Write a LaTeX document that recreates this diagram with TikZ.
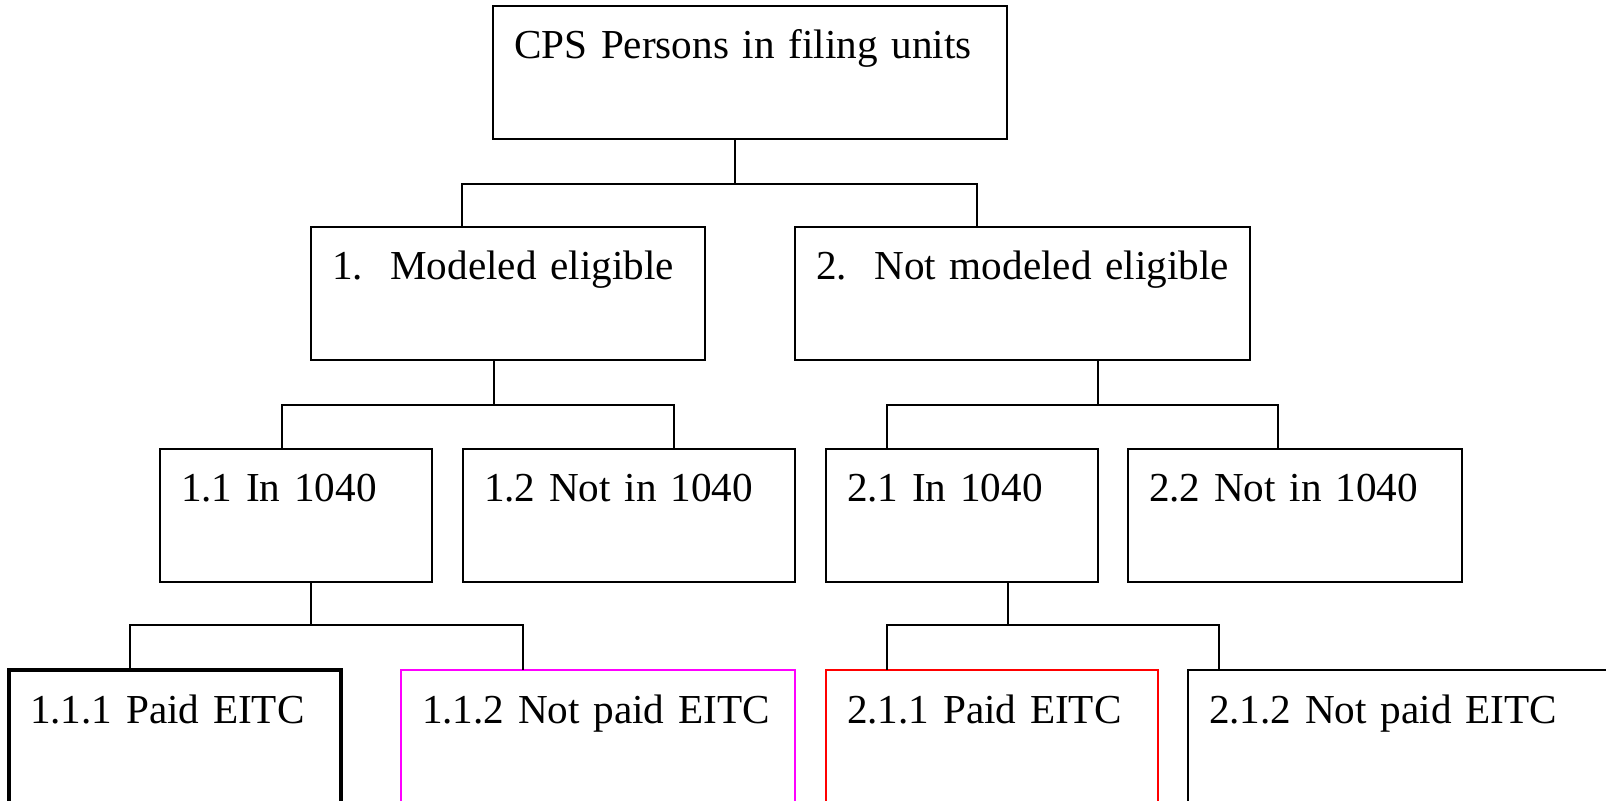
\documentclass[tikz,border=0pt]{standalone}
\usepackage{fontspec}
\setmainfont{Liberation Serif}
\definecolor{boxmagenta}{RGB}{255,0,255}
\definecolor{boxred}{RGB}{255,0,0}

\begin{document}
\begin{tikzpicture}
	[x=0.5pt, y=-0.5pt,
		box/.style		={rectangle, draw, line width=1pt, anchor=north west,
									outer sep=0pt, inner xsep=0pt, inner ysep=0pt,
									text height=26.5pt, text depth=40pt,
									text width=#1, align=left,
									execute at begin node=\hspace*{10.5pt},
									font=\fontsize{20.6}{25}\selectfont},
		open/.style		={text depth=100pt},
		line/.style		={draw, line width=1pt}
	]
\useasboundingbox (0,0) rectangle (1606,801);
\clip (0,0) rectangle (1606,801);

% row 1
\node [box=257pt] (cps)		at (493,6)		{CPS Persons in filing units};
% row 2
\node [box=197pt] (elig)		at (311,227)	{1.\ \ Modeled eligible};
\node [box=227.5pt] (notelig)	at (795,227)	{2.\ \ Not modeled eligible};
% row 3
\node [box=136pt] (in1)		at (160,449)	{1.1 In 1040};
\node [box=166pt] (notin1)	at (463,449)	{1.2 Not in 1040};
\node [box=136pt] (in2)		at (826,449)	{2.1 In 1040};
\node [box=167pt] (notin2)	at (1128,449)	{2.2 Not in 1040};
% row 4
\node [box=166pt, open, line width=2.25pt] (paid1)			at (9,670)		{1.1.1 Paid EITC};
\node [box=197pt, open, draw=boxmagenta, line width=0.9pt] (notpaid1)	at (401,670)	{1.1.2 Not paid EITC};
\node [box=166pt, open, draw=boxred, line width=0.9pt] (paid2)		at (826,670)	{2.1.1 Paid EITC};
\node [box=240pt, open] (notpaid2)		at (1188,670)	{2.1.2 Not paid EITC};

% forks
\coordinate (fork0)	at (735,184);
\coordinate (fork0l)	at (462,184);
\coordinate (fork0r)	at (977,184);
\coordinate (fork1)	at (494,405);
\coordinate (fork1l)	at (282,405);
\coordinate (fork1r)	at (674,405);
\coordinate (fork2)	at (1098,405);
\coordinate (fork2l)	at (887,405);
\coordinate (fork2r)	at (1278,405);
\coordinate (fork3)	at (311,625);
\coordinate (fork3l)	at (130,625);
\coordinate (fork3r)	at (523,625);
\coordinate (fork4)	at (1008,625);
\coordinate (fork4l)	at (887,625);
\coordinate (fork4r)	at (1219,625);

\begin{scope}[every path/.style=line]

	\path		(cps.south -| fork0)		-- (fork0);
	\path		(elig.north -| fork0l)		|- (fork0r) -- (notelig.north -| fork0r);

	\path		(elig.south -| fork1)		-- (fork1);
	\path		(in1.north -| fork1l)		|- (fork1r) -- (notin1.north -| fork1r);

	\path		(notelig.south -| fork2)	-- (fork2);
	\path		(in2.north -| fork2l)		|- (fork2r) -- (notin2.north -| fork2r);

	\path		(in1.south -| fork3)		-- (fork3);
	\path		(paid1.north -| fork3l)	|- (fork3r) -- (notpaid1.north -| fork3r);

	\path		(in2.south -| fork4)		-- (fork4);
	\path		(paid2.north -| fork4l)	|- (fork4r) -- (notpaid2.north -| fork4r);
\end{scope}
\end{tikzpicture}
\end{document}
